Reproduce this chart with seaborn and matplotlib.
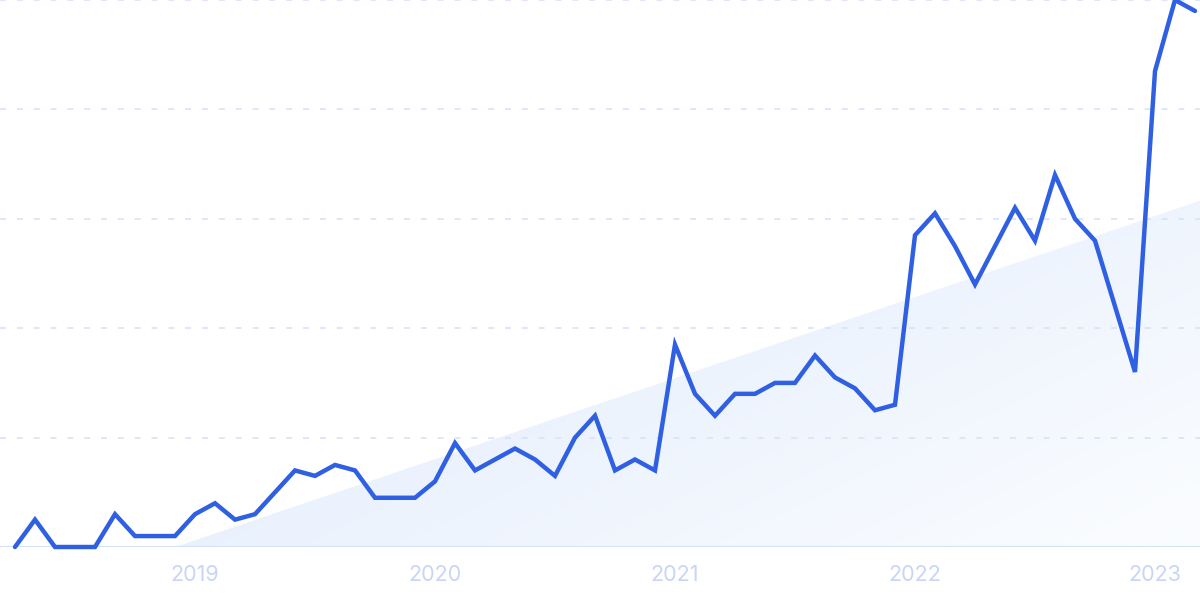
import numpy as np
import pandas as pd
import matplotlib
matplotlib.use("Agg")
import matplotlib.pyplot as plt
from matplotlib.patches import Polygon
from matplotlib.colors import LinearSegmentedColormap
import seaborn as sns

# ---- data ----
months = pd.date_range("2018-04-01", "2023-03-01", freq="MS")
values = [0, 5, 0, 0, 0, 6, 2, 2, 2, 6,
          8, 5, 6, 10, 14, 13, 15, 14, 9, 9,
          9, 12, 19, 14, 16, 18, 16, 13, 20, 24,
          14, 16, 14, 37, 28, 24, 28, 28, 30, 30,
          35, 31, 29, 25, 26, 57, 61, 55, 48, 55,
          62, 56, 68, 60, 56, 44, 32, 87, 100, 98]
tick_labels = ["2019", "2020", "2021", "2022", "2023"]
trend_start_index = 8
trend_start_value = 0
trend_end_value = 63
grid_levels = [20, 40, 60, 80, 100]

df = pd.DataFrame({"idx": np.arange(len(values)), "value": values, "month": months})
tick_idx = [int(np.where((df["month"].dt.year == int(y)) & (df["month"].dt.month == 1))[0][0]) for y in tick_labels]

# ---- figure ----
sns.set_theme(style="white")
plt.rcParams["font.family"] = ["Inter", "DejaVu Sans"]
fig = plt.figure(figsize=(12, 5.99), dpi=100)
ax = fig.add_axes([0, 52 / 599, 1, 547 / 599])
n = len(values)
ax.set_xlim(-0.75, n - 1 + 0.25)
ax.set_ylim(0, 100)

# gradient trend area
x0, x1 = trend_start_index, n - 1 + 0.25
poly = Polygon([[x0, trend_start_value], [x1, trend_end_value + 0.3], [x1, 0]],
               closed=True, facecolor="none", edgecolor="none")
ax.add_patch(poly)
cmap = LinearSegmentedColormap.from_list("g", ["#e1ecfc", "#fafcff"])
gx, gy = np.meshgrid(np.linspace(0, 1, 300), np.linspace(0, 1, 150))
grad = gx * 0.7 + gy * 0.5
im = ax.imshow(grad, extent=[x0, x1, 0, trend_end_value + 1], origin="upper",
               cmap=cmap, aspect="auto", zorder=0.5, vmin=0.15, vmax=1.15)
im.set_clip_path(poly)

# gridlines
for g in grid_levels:
    ax.axhline(g, color="#d8e3f9", lw=1.2, dashes=(3.6, 6.5), zorder=1)
ax.axhline(0, color="#d2e3fa", lw=1.5, zorder=1)

sns.lineplot(data=df, x="idx", y="value", ax=ax, color="#2f5fe2", lw=3.2,
             zorder=3, clip_on=False)
ax.lines[-1].set_solid_joinstyle("miter")

ax.set_xticks(tick_idx)
ax.set_xticklabels(tick_labels, color="#c8d5f5", fontsize=15.5)
ax.tick_params(axis="x", length=0, pad=13)
ax.set_yticks([])
ax.set_xlabel("")
ax.set_ylabel("")
for s in ax.spines.values():
    s.set_visible(False)
ax.set_facecolor("white")
fig.patch.set_facecolor("white")

fig.savefig("out.png", dpi=100, facecolor="white")
